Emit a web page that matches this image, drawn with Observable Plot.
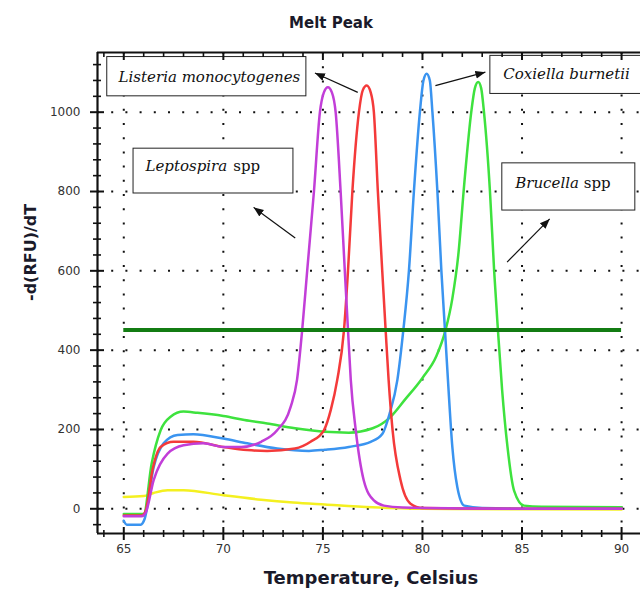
<!DOCTYPE html>
<html>
<head>
<meta charset="utf-8">
<script src="https://cdn.jsdelivr.net/npm/d3@7"></script>
<script src="https://cdn.jsdelivr.net/npm/@observablehq/plot@0.6"></script>
<style>
  html, body { margin: 0; padding: 0; background: #fff; overflow: hidden; }
  svg { overflow: hidden; }
</style>
</head>
<body>
<div id="chart"></div>
<script>
// ---------- data ----------
const X_DOMAIN = [63.68, 90.95];
const Y_DOMAIN = [-62.3, 1150.5];

const xMajor = [65, 70, 75, 80, 85, 90];
const xMinor = [64, 66, 67, 68, 69, 71, 72, 73, 74, 76, 77, 78, 79, 81, 82, 83, 84, 86, 87, 88, 89];
const yMajor = [0, 200, 400, 600, 800, 1000];
const yMinor = [-40, 40, 80, 120, 160, 240, 280, 320, 360, 440, 480, 520, 560, 640, 680, 720, 760, 840, 880, 920, 960, 1040, 1080, 1120];

// Leptospira spp (purple)
const leptoT = [65, 65.9, 66.1, 66.5, 67.2, 68, 69, 70, 70.9, 71.9, 72.7, 73.38, 73.7, 73.96, 74.21, 74.55, 74.85, 75.05, 75.25, 75.45, 75.64, 75.89, 76.1, 76.26, 76.4, 76.65, 77.05, 77.56, 78.06, 79, 82, 86, 90];
const leptoV = [-19, -19, -10, 72, 139, 160, 165, 156, 156, 169, 198, 257, 325, 451, 600, 800, 1000, 1050, 1063, 1050, 1000, 800, 600, 451, 325, 198, 72, 21, 8, 3, 1, 0, 0];

// Listeria monocytogenes (red)
const listT = [65, 65.9, 66.1, 66.45, 66.85, 67.5, 68.5, 70, 71.2, 72.2, 73.6, 74.38, 75.05, 75.4, 75.72, 76.06, 76.26, 76.48, 76.81, 77.0, 77.2, 77.4, 77.56, 77.76, 77.98, 78.15, 78.3, 78.5, 78.9, 79.4, 80, 84, 90];
const listV = [-17, -17, -5, 100, 156, 169, 169, 156, 148, 146, 152, 169, 198, 250, 325, 451, 600, 800, 1000, 1055, 1067, 1050, 1000, 800, 600, 451, 325, 198, 72, 13, 2, 0, 0];

// Coxiella burnetii (blue)
const coxT = [65, 65.15, 65.85, 66.05, 66.5, 67, 67.7, 68.5, 70, 71.2, 72.7, 74.3, 75.1, 76.3, 77.4, 78.0, 78.35, 78.74, 79.04, 79.32, 79.57, 79.87, 80.05, 80.21, 80.37, 80.5, 80.75, 80.95, 81.13, 81.28, 81.5, 81.75, 82.1, 83, 86, 90];
const coxV = [-30, -40, -40, -25, 105, 165, 186, 188, 177, 165, 152, 146, 149, 156, 169, 190, 240, 325, 451, 600, 800, 1000, 1080, 1097, 1080, 1000, 800, 600, 451, 325, 156, 55, 8, 2, 0, 0];

// Brucella spp (green)
const bruT = [65, 66, 66.4, 66.85, 67.35, 68, 68.7, 70, 71.06, 72.2, 73.6, 75.1, 76.3, 77.5, 78.4, 79.1, 80.0, 80.7, 81.16, 81.5, 81.8, 82.1, 82.45, 82.63, 82.8, 82.95, 83.09, 83.39, 83.6, 83.79, 84.0, 84.27, 84.6, 85.1, 86, 90];
const bruV = [-13, -13, 114, 198, 232, 245, 242, 234, 224, 215, 203, 194, 192, 203, 232, 274, 330, 385, 451, 530, 640, 820, 1000, 1060, 1076, 1060, 1000, 800, 600, 451, 300, 156, 46, 8, 5, 4];

// negative control (yellow)
const ntcT = [65, 66, 66.5, 67.2, 68, 70, 71.9, 73.5, 75.1, 77.5, 80, 85, 90];
const ntcV = [30, 32, 40, 47, 47, 34, 23, 16, 11, 4, 0, -1, -2];

const threshold = [451];

const seriesNames = ["ntc", "Brucella", "Coxiella", "Listeria", "Leptospira"];
const seriesColors = ["#f4f020", "#3ee23e", "#3a94f0", "#f43a3a", "#c23ed8"];
const seriesT = [ntcT, bruT, coxT, listT, leptoT];
const seriesV = [ntcV, bruV, coxV, listV, leptoV];

// annotation boxes (data units)
const boxX1 = [64.17, 83.41, 65.49, 84.01];
const boxX2 = [74.17, 93.0, 73.52, 90.69];
const boxYTop = [1139, 1142, 908, 871];
const boxYBot = [1040, 1046, 795, 752];

// annotation text pieces
const labelText = ["Listeria monocytogenes", "Coxiella burnetii", "Leptospira", "spp", "Brucella", "spp"];
const labelX = [64.74, 84.06, 66.09, 70.5, 84.66, 88.1];
const labelY = [1089, 1095, 863, 863, 820, 820];
const labelItalic = [true, true, true, false, true, false];

// arrows (tail -> head)
const arrowX1 = [76.75, 80.65, 73.61, 84.25];
const arrowY1 = [1050, 1067, 683, 622];
const arrowX2 = [74.6, 83.16, 71.52, 86.39];
const arrowY2 = [1099, 1101, 760, 731];

// ---------- build tables ----------
const boxes = boxX1.map((x1, i) => ({x1, x2: boxX2[i], y1: boxYBot[i], y2: boxYTop[i]}));
const labels = labelText.map((text, i) => ({text, x: labelX[i], y: labelY[i], italic: labelItalic[i]}));
const arrows = arrowX1.map((x1, i) => ({x1, y1: arrowY1[i], x2: arrowX2[i], y2: arrowY2[i]}));

const W = 640, H = 597;
const mT = 52, mB = 64, mL = 97, mR = 0;
const FH = H - mT - mB, FW = W - mL - mR;

const lineMarks = seriesNames.map((name, i) =>
  Plot.line(seriesT[i].map((t, j) => ({t, v: seriesV[i][j]})), {
    x: "t", y: "v", stroke: seriesColors[i], strokeWidth: 2.5, curve: "monotone-x"
  })
);

const dots = {stroke: "#111", strokeWidth: 2, strokeDasharray: "2,12.2", strokeOpacity: 1};

const plot = Plot.plot({
  width: W, height: H,
  marginTop: mT, marginBottom: mB, marginLeft: mL, marginRight: mR,
  x: {domain: X_DOMAIN},
  y: {domain: Y_DOMAIN},
  style: {fontFamily: "DejaVu Sans", fontSize: "12px", background: "#fff", color: "#111"},
  marks: [
    Plot.gridX(xMajor, dots),
    Plot.gridY(yMajor, dots),
    ...lineMarks,
    Plot.ruleY(threshold, {x1: 65, x2: 90, stroke: "#137c13", strokeWidth: 4}),
    Plot.rect(boxes, {x1: "x1", x2: "x2", y1: "y1", y2: "y2", fill: "#fff", stroke: "#222", strokeWidth: 1}),
    Plot.text(labels.filter(d => d.italic), {x: "x", y: "y", text: "text", textAnchor: "start", fontFamily: "DejaVu Serif", fontStyle: "italic", fontSize: 15, fill: "#111"}),
    Plot.text(labels.filter(d => !d.italic), {x: "x", y: "y", text: "text", textAnchor: "start", fontFamily: "DejaVu Serif", fontSize: 15, fill: "#111"}),
    Plot.link(arrows, {x1: "x1", y1: "y1", x2: "x2", y2: "y2", stroke: "#111", strokeWidth: 1.2}),
    // ticks: bottom
    Plot.tickX(xMajor, {x: d => d, insetTop: FH - 6, insetBottom: -7, stroke: "#111", strokeWidth: 2}),
    Plot.tickX(xMinor, {x: d => d, insetTop: FH - 3, insetBottom: -4, stroke: "#111", strokeWidth: 1.6}),
    // ticks: top
    Plot.tickX(xMajor, {x: d => d, insetBottom: FH - 8, stroke: "#111", strokeWidth: 2}),
    Plot.tickX(xMinor, {x: d => d, insetBottom: FH - 5, stroke: "#111", strokeWidth: 1.6}),
    // ticks: left
    Plot.tickY(yMajor, {y: d => d, insetRight: FW - 7, insetLeft: -7, stroke: "#111", strokeWidth: 2}),
    Plot.tickY(yMinor, {y: d => d, insetRight: FW - 4, insetLeft: -4, stroke: "#111", strokeWidth: 1.6}),
    // frame lines
    Plot.ruleX([X_DOMAIN[0]], {stroke: "#111", strokeWidth: 2.2}),
    Plot.ruleY([Y_DOMAIN[0]], {stroke: "#111", strokeWidth: 2.2}),
    Plot.ruleY([Y_DOMAIN[1]], {stroke: "#111", strokeWidth: 2.2}),
    // axes labels
    Plot.axisX({ticks: xMajor, tickSize: 0, tickPadding: 11, label: null, tickFormat: d => String(d), fill: "#333", fontSize: 12}),
    Plot.axisY({ticks: yMajor, tickSize: 0, tickPadding: 17, label: null, tickFormat: d => String(d), fill: "#333", fontSize: 12}),
    // titles
    Plot.text(["Melt Peak"], {frameAnchor: "top", dx: -38, dy: -35, fontWeight: "bold", fontSize: 15, fill: "#1a1a2a"}),
    Plot.text(["Temperature, Celsius"], {frameAnchor: "bottom", dx: 2, dy: 50, fontWeight: "bold", fontSize: 18, fill: "#1a1a2a"}),
    Plot.text(["-d(RFU)/dT"], {frameAnchor: "left", dx: -67, dy: 8, rotate: -90, fontWeight: "bold", fontSize: 16, fill: "#1a1a2a"})
  ]
});

// filled arrowheads for the annotation links
const svg = d3.select(plot);
const defs = svg.insert("defs", ":first-child");
defs.append("marker")
  .attr("id", "ahead").attr("viewBox", "0 0 10 10")
  .attr("refX", 10).attr("refY", 5)
  .attr("markerWidth", 10).attr("markerHeight", 10)
  .attr("markerUnits", "userSpaceOnUse").attr("orient", "auto")
  .append("path").attr("d", "M0,1L10,5L0,9Z").attr("fill", "#111");
svg.selectAll('g[aria-label="link"] path').attr("marker-end", "url(#ahead)");

document.getElementById("chart").appendChild(plot);
</script>
</body>
</html>
